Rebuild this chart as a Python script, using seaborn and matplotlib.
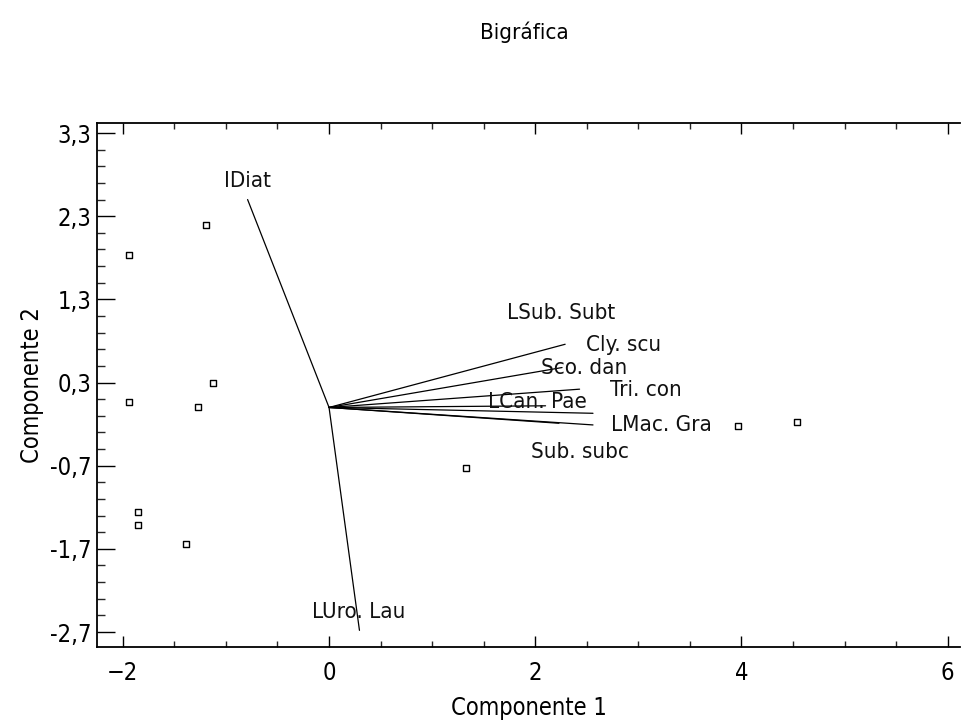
import matplotlib
matplotlib.use("Agg")
import matplotlib.pyplot as plt
import seaborn as sns
import numpy as np
import pandas as pd
from matplotlib.ticker import FixedLocator, MultipleLocator
from matplotlib import font_manager as fm

# ---- data ----
score_x = [-1.94, -1.19, -1.13, -1.94, -1.27, -1.85, -1.85, -1.39, 1.33, 3.97, 4.54]
score_y = [1.83, 2.19, 0.30, 0.06, 0.01, -1.26, -1.41, -1.64, -0.73, -0.22, -0.18]

var_names = ["IDiat", "LUro. Lau", "LSub. Subt", "Cly. scu", "Sco. dan",
             "Tri. con", "LCan. Pae", "LMac. Gra", "Sub. subc"]
load_x = [-0.79, 0.295, 2.29, 2.26, 2.43, 2.56, 2.10, 2.56, 2.23]
load_y = [2.50, -2.68, 0.76, 0.48, 0.22, -0.07, 0.02, -0.21, -0.19]
label_x = [-0.79, 0.286, 2.25, 2.86, 2.47, 3.07, 2.02, 3.22, 2.43]
label_y = [2.72, -2.46, 1.13, 0.75, 0.47, 0.21, 0.06, -0.21, -0.54]

xticks = [-2, 0, 2, 4, 6]
yticks = [3.3, 2.3, 1.3, 0.3, -0.7, -1.7, -2.7]
ytick_labels = ["3,3", "2,3", "1,3", "0,3", "-0,7", "-1,7", "-2,7"]

title = "Bigráfica"
xlabel = "Componente 1"
ylabel = "Componente 2"

# ---- style ----
sns.set_style("ticks")
names = {f.name for f in fm.fontManager.ttflist}
if "Liberation Sans Narrow" in names:
    plt.rcParams['font.family'] = ['Liberation Sans Narrow', 'DejaVu Sans']
else:
    plt.rcParams['font.family'] = ['DejaVu Sans']
    plt.rcParams['font.stretch'] = 'condensed'
plt.rcParams['text.color'] = 'black'
plt.rcParams['axes.labelcolor'] = 'black'

fig = plt.figure(figsize=(9.61, 7.25), dpi=100)
ax = fig.add_axes([0.101, 0.1076, 0.898, 0.7227])

scores = pd.DataFrame({"x": score_x, "y": score_y})
sns.scatterplot(data=scores, x="x", y="y", ax=ax, marker="s", s=14,
                facecolor="white", edgecolor="black", linewidth=1.0, zorder=3)

for lx, ly in zip(load_x, load_y):
    ax.plot([0, lx], [0, ly], color="black", lw=0.9, zorder=2)

for name, tx, ty in zip(var_names, label_x, label_y):
    ax.text(tx, ty, name, ha="center", va="center", fontsize=16, color="#111111")

ax.set_xlim(-2.25, 6.12)
ax.set_ylim(-2.88, 3.42)

ax.xaxis.set_major_locator(FixedLocator(xticks))
ax.xaxis.set_minor_locator(MultipleLocator(0.5))
ax.yaxis.set_major_locator(FixedLocator(yticks))
ax.set_yticklabels(ytick_labels)
ax.yaxis.set_minor_locator(FixedLocator(np.round(np.arange(-2.7, 3.31, 0.2), 2)))

ax.tick_params(axis="x", which="major", direction="in", length=8, width=1.0,
               top=True, labelsize=17, pad=10, colors="black")
ax.tick_params(axis="x", which="minor", direction="in", length=4, width=1.0, top=True)
ax.tick_params(axis="y", which="major", direction="in", length=13, width=1.0,
               right=False, labelsize=17, pad=4, colors="black")
ax.tick_params(axis="y", which="minor", direction="in", length=6, width=1.0, right=False)

for sp in ax.spines.values():
    sp.set_visible(True)
    sp.set_color("black")
    sp.set_linewidth(1.3)
ax.spines["right"].set_visible(False)

ax.set_xlabel(xlabel, fontsize=17, labelpad=8)
ax.set_ylabel(ylabel, fontsize=17, labelpad=4)
fig.text(0.546, 0.955, title, ha="center", va="center", fontsize=16)

fig.savefig("out.png", dpi=100, facecolor="white")
